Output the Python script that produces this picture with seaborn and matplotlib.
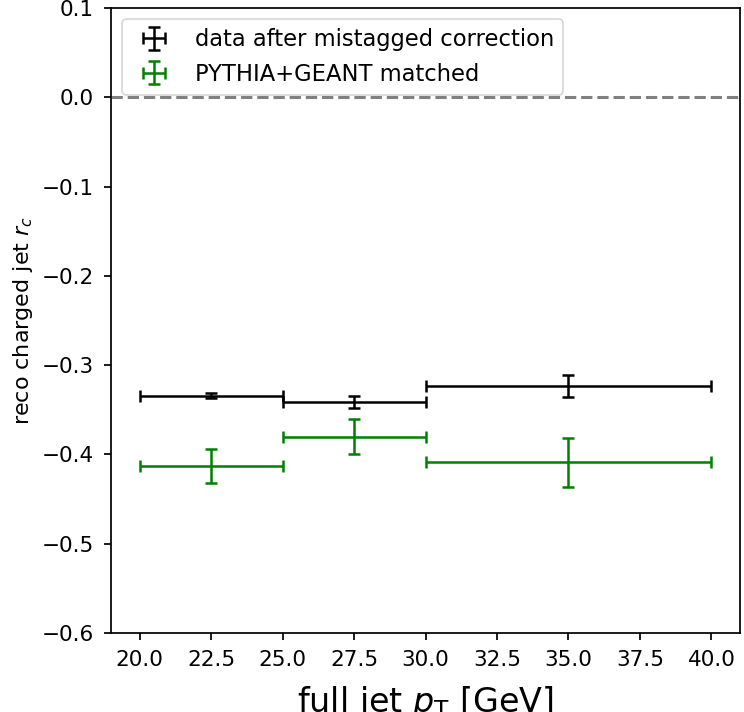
import numpy as np
import matplotlib
matplotlib.use("Agg")
import matplotlib.pyplot as plt
import seaborn as sns

# bins (full jet pT)
bin_centers = [22.5, 27.5, 35.0]
bin_halfwidths = [2.5, 2.5, 5.0]

data_rc = [-0.334, -0.341, -0.323]
data_err = [0.003, 0.0065, 0.0125]

mc_rc = [-0.413, -0.380, -0.409]
mc_err = [0.019, 0.020, 0.027]

x_ticks = [20.0, 22.5, 25.0, 27.5, 30.0, 32.5, 35.0, 37.5, 40.0]

sns.set_style("ticks")
plt.rcParams['font.family'] = ['DejaVu Sans']
plt.rcParams['text.color'] = 'black'
plt.rcParams['axes.labelcolor'] = 'black'
plt.rcParams['xtick.color'] = 'black'
plt.rcParams['ytick.color'] = 'black'

fig = plt.figure(figsize=(7.44, 7.12), dpi=100)
ax = fig.add_axes([111/744, 1 - 633/712, 629/744, 625/712])

ax.errorbar(bin_centers, data_rc, xerr=bin_halfwidths, yerr=data_err,
            fmt='none', ecolor='black', capsize=4.5, elinewidth=1.8, capthick=1.8,
            label='data after mistagged correction')
ax.errorbar(bin_centers, mc_rc, xerr=bin_halfwidths, yerr=mc_err,
            fmt='none', ecolor='green', capsize=4.5, elinewidth=1.8, capthick=1.8,
            label='PYTHIA+GEANT matched')
ax.axhline(0, color='gray', linestyle='--', linewidth=2.2)

ax.set_ylim(-0.6, 0.1)
ax.set_xlim(19, 41)
ax.set_xticks(x_ticks)
ax.set_xlabel(r'full jet $p_{\mathrm{T}}$ [GeV]', fontsize=24, labelpad=10)
ax.set_ylabel(r'reco charged jet $r_c$', fontsize=16, labelpad=5)
ax.tick_params(labelsize=15.5, color='black', length=5.2, width=1.25, pad=7)
for s in ax.spines.values():
    s.set_color('black')
    s.set_linewidth(1.25)
leg = ax.legend(loc='upper left', fontsize=16.3)
leg.get_frame().set_linewidth(1.2)

fig.savefig('out.png', dpi=100)
